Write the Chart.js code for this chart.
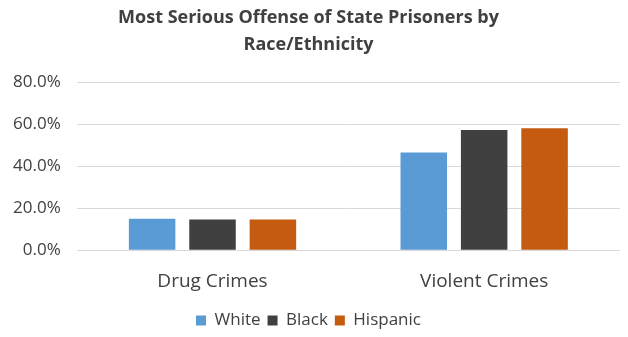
<!DOCTYPE html>
<html>
<head>
<meta charset="utf-8">
<script src="https://cdn.jsdelivr.net/npm/chart.js@4"></script>
<style>
  html, body { margin: 0; padding: 0; background: #fff; }
  #wrap { width: 628px; height: 337px; }
</style>
</head>
<body>
<div id="wrap"><canvas id="chart" width="628" height="337"></canvas></div>
<script>
// data
const categories = ['Drug Crimes', 'Violent Crimes'];
const seriesNames = ['White', 'Black', 'Hispanic'];
const whiteValues = [0.150, 0.465];
const blackValues = [0.146, 0.572];
const hispanicValues = [0.146, 0.580];
const yTicks = [0, 0.2, 0.4, 0.6, 0.8];

const colors = ['#5B9BD5', '#404040', '#C55A11'];
const seriesValues = [whiteValues, blackValues, hispanicValues];

const font = "'Open Sans', 'DejaVu Sans', sans-serif";

new Chart(document.getElementById('chart'), {
  type: 'bar',
  data: {
    labels: categories,
    datasets: seriesNames.map((name, i) => ({
      label: name,
      data: seriesValues[i],
      backgroundColor: colors[i],
      borderWidth: 0,
      categoryPercentage: 0.667,
      barPercentage: 0.77
    }))
  },
  options: {
    responsive: false,
    animation: false,
    layout: { padding: { left: -3, right: 8, top: 4, bottom: -2 } },
    plugins: {
      title: {
        display: true,
        text: ['Most Serious Offense of State Prisoners by', 'Race/Ethnicity'],
        color: '#404040',
        font: { family: font, size: 18, weight: 'bold', lineHeight: 1.5 },
        padding: { top: 0, bottom: 24 }
      },
      legend: {
        position: 'bottom',
        labels: {
          color: '#404040',
          font: { family: font, size: 17 },
          boxWidth: 10,
          boxHeight: 10,
          padding: 7
        }
      },
      tooltip: { enabled: false }
    },
    scales: {
      x: {
        grid: { display: false },
        border: { display: false },
        ticks: { color: '#404040', font: { family: font, size: 19 }, padding: 12 }
      },
      y: {
        min: 0,
        max: 0.8,
        afterBuildTicks: axis => { axis.ticks = yTicks.map(v => ({ value: v })); },
        grid: { color: '#d9d9d9', drawTicks: false },
        border: { display: false },
        ticks: {
          color: '#404040',
          font: { family: font, size: 17 },
          padding: 16,
          callback: v => (v * 100).toFixed(1) + '%'
        }
      }
    }
  }
});
</script>
</body>
</html>
